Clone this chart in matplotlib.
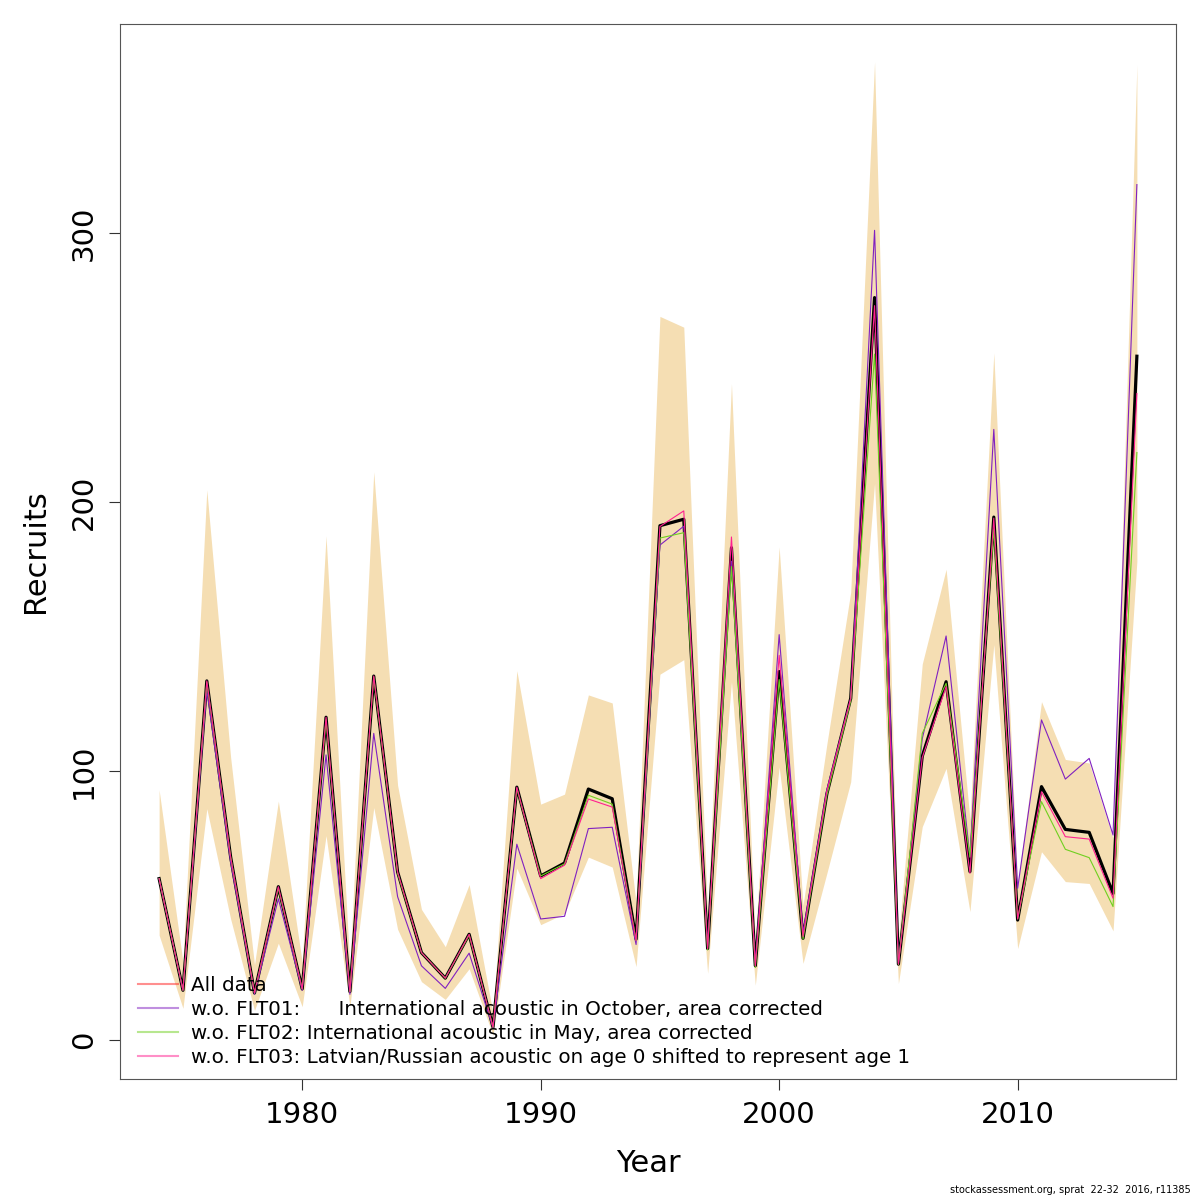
import matplotlib
matplotlib.use("Agg")
from matplotlib import pyplot as plt
from matplotlib.lines import Line2D

# years of the assessment
years = list(range(1974, 2016))

# all data run (thick black line and thin red line)
all_data = [60, 18.5, 133.5, 68, 17.5, 57, 19, 120, 18, 135.3,
            62.5, 32.5, 23, 39.3, 4.8, 94, 61, 65.8, 93.3, 89.7,
            37.5, 191.2, 193.6, 34, 183, 27.6, 137, 37.8, 91.5, 127,
            276, 28.2, 105.5, 133.2, 62.6, 194.4, 44.6, 94.2, 78.3, 77.2,
            54.5, 254.2]

# confidence band of the all data run
lower = [39, 11.8, 86, 45, 11, 36, 12.4, 76, 12.5, 86.4,
         41.2, 21.7, 15.1, 26.5, 1.8, 63.9, 42.9, 47, 68, 64.3,
         27.3, 136, 141.4, 24.8, 133.2, 20.4, 101.5, 28.5, 62, 96,
         207, 21, 79.3, 101, 47.7, 147, 34, 70, 58.9, 58.2,
         40.6, 178]
upper = [93, 29, 204.5, 105, 28, 88.8, 29, 187.4, 27, 211.2,
         94.7, 48.6, 34.7, 57.8, 10, 137.3, 87.7, 91.4, 128.3, 125.3,
         51, 269, 265, 47, 244, 37, 183.3, 50, 110, 166.5,
         363.6, 37, 139.8, 175, 82, 255.4, 58, 125.8, 104.3, 103,
         75, 362.5]

# leave-one-out runs
wo_flt01 = [60, 18.5, 130, 66, 17, 52.5, 18.5, 106, 17, 114,
            53.3, 27.6, 19.2, 32.3, 4.5, 72.8, 45, 46, 78.6, 79.1,
            35.5, 184, 191, 35, 178, 28.5, 150.7, 40, 93, 127,
            301, 28.5, 112, 150.2, 68, 227, 56.4, 119, 97, 104.7,
            76.2, 318]
wo_flt02 = [60, 18.5, 133, 68, 17.5, 56.5, 19, 119, 18, 135,
            62, 32.5, 23, 39, 4.8, 93.5, 61, 65.5, 91, 87.7,
            37, 186.6, 188.6, 33.5, 176, 27, 134, 37.5, 91, 126,
            255, 28, 114, 132.6, 68, 190, 45, 88.6, 70.9, 67.8,
            49.6, 218.4]
wo_flt03 = [60, 18.5, 133.5, 68, 17.5, 57, 19, 120, 18, 135.3,
            62.5, 32.5, 23, 39.3, 4.8, 94, 60, 65, 89.6, 86.6,
            37, 190.9, 196.7, 34, 187, 27.6, 143, 38.5, 92.5, 127,
            273, 28.2, 105, 131.4, 62, 194, 45, 92.3, 75.6, 74.7,
            52.7, 240.3]

labels = ["All data",
          "w.o. FLT01:      International acoustic in October, area corrected",
          "w.o. FLT02: International acoustic in May, area corrected",
          "w.o. FLT03: Latvian/Russian acoustic on age 0 shifted to represent age 1"]
colors = ["#ff2020", "#8020c0", "#70d020", "#ff2090"]

fig = plt.figure(figsize=(12, 12), dpi=100)
ax = fig.add_axes([0.1, 0.1008, 0.88, 0.8792])

# band
ax.fill_between(years, lower, upper, color="wheat", linewidth=0)

# red all data line sits under the black one
ax.plot(years, all_data, color=colors[0], linewidth=0.8)
ax.plot(years, all_data, color="black", linewidth=2.3)

# thin leave-one-out lines on top
for run, c in zip([wo_flt01, wo_flt02, wo_flt03], colors[1:]):
    ax.plot(years, run, color=c, linewidth=0.8)

ax.set_xlim(1972.36, 2016.64)
ax.set_ylim(-14.5, 377.7)
ax.set_xticks([1980, 1990, 2000, 2010])
ax.set_yticks([0, 100, 200, 300])
ax.tick_params(axis="both", labelsize=21, length=8, width=0.8, color="#333333", pad=8)
for lab in ax.get_yticklabels():
    lab.set_rotation(90)
    lab.set_va("center")
for s in ax.spines.values():
    s.set_color("#555555")
    s.set_linewidth(0.8)

ax.set_xlabel("Year", fontsize=22, labelpad=14)
ax.set_ylabel("Recruits", fontsize=22, labelpad=14)

# legend with pale lines
handles = [Line2D([0], [0], color=c, linewidth=1.5, alpha=0.5) for c in colors]
ax.legend(handles, labels, loc="lower left", bbox_to_anchor=(0.0095, 0.004),
          frameon=False, fontsize=14.3, handlelength=2.0, handletextpad=0.65,
          labelspacing=0.25, borderaxespad=0.0)

fig.text(0.992, 0.0045, "stockassessment.org, sprat  22-32  2016, r11385",
         fontsize=7, ha="right", va="bottom")

fig.savefig("out.png", dpi=100)
